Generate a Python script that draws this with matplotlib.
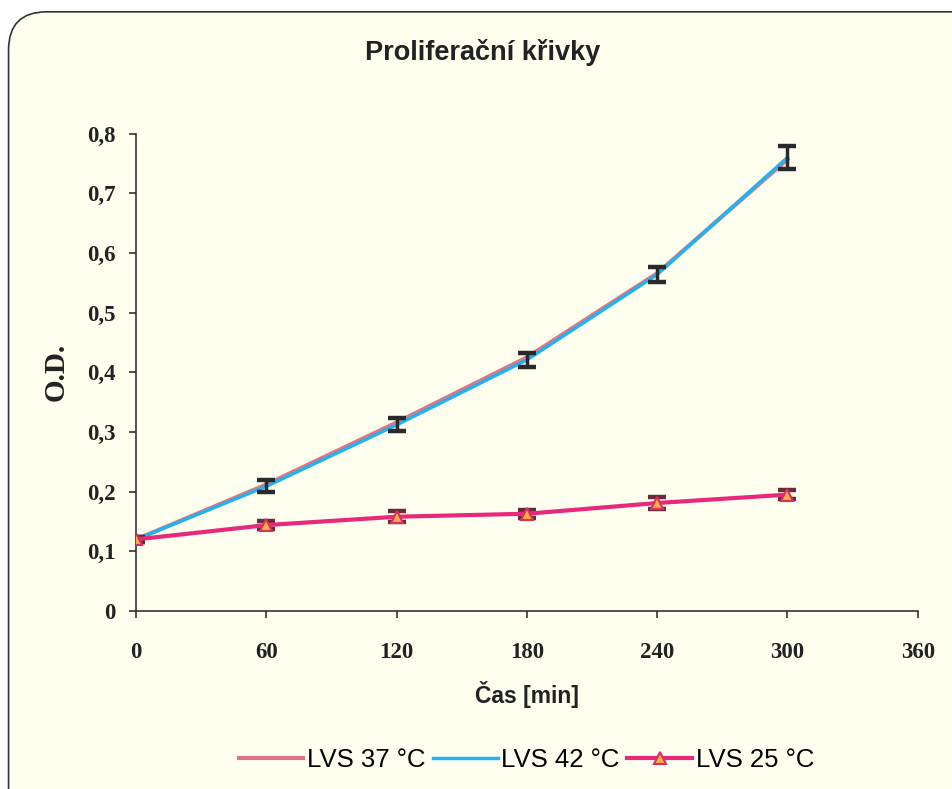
import matplotlib
matplotlib.use("Agg")
import matplotlib.pyplot as plt
from matplotlib.patches import FancyBboxPatch
from matplotlib.ticker import FuncFormatter

time_min = [0, 60, 120, 180, 240, 300]
od_37 = [0.120, 0.212, 0.316, 0.425, 0.566, 0.757]
od_42 = [0.120, 0.209, 0.312, 0.421, 0.564, 0.760]
err_42 = [0.004, 0.010, 0.011, 0.012, 0.012, 0.019]
od_25 = [0.120, 0.144, 0.158, 0.163, 0.181, 0.195]
err_25 = [0.004, 0.006, 0.009, 0.007, 0.010, 0.008]

bg = "#fffff0"
serif = ["Liberation Serif", "DejaVu Serif"]
sans = ["Liberation Sans", "DejaVu Sans"]

fig = plt.figure(figsize=(9.52, 7.89), dpi=100, facecolor="white")
frame = FancyBboxPatch((0.009, -0.05), 1.05, 1.035, boxstyle="round,pad=0,rounding_size=0.04",
                       transform=fig.transFigure, facecolor=bg, edgecolor="#333333", linewidth=1.2,
                       mutation_aspect=952 / 789, zorder=-10)
fig.patches.append(frame)

ax = fig.add_axes([0.143, 0.2256, 0.821, 0.605])
ax.set_facecolor("none")

ax.plot(time_min, od_37, color="#e07585", lw=3, zorder=3, label="LVS 37 °C")
ax.plot(time_min, od_42, color="#22b2ee", lw=2.5, zorder=3, label="LVS 42 °C")
ax.errorbar(time_min, od_42, yerr=err_42, fmt="none", ecolor="#2a2a2a", elinewidth=2.5,
            capsize=6.5, capthick=3.2, zorder=4)
ax.errorbar(time_min, od_25, yerr=err_25, fmt="none", ecolor="#6a2a3a", elinewidth=2.5,
            capsize=6.5, capthick=3.2, zorder=4)
ax.plot(time_min, od_25, color="#e8287a", lw=3, marker="^", markersize=8,
        markerfacecolor="#f7b040", markeredgecolor="#d83060", markeredgewidth=1.5,
        zorder=5, label="LVS 25 °C")

ax.set_xlim(0, 360)
ax.set_ylim(0, 0.8)
ax.set_xticks(range(0, 361, 60))
ax.set_yticks([0, 0.1, 0.2, 0.3, 0.4, 0.5, 0.6, 0.7, 0.8])
ax.yaxis.set_major_formatter(FuncFormatter(lambda v, p: "0" if v == 0 else f"{v:.1f}".replace(".", ",")))
for s in ["top", "right"]:
    ax.spines[s].set_visible(False)
for s in ["left", "bottom"]:
    ax.spines[s].set_color("#333333")
    ax.spines[s].set_linewidth(1.2)
ax.tick_params(direction="out", length=5, width=1.2, color="#333333")
ax.tick_params(axis="x", pad=17)
ax.tick_params(axis="y", pad=10)
for lab in ax.get_xticklabels() + ax.get_yticklabels():
    lab.set_fontfamily(serif)
    lab.set_fontweight("bold")
    lab.set_fontsize(16.5)
    lab.set_color("#222222")

ax.set_ylabel("O.D.", fontfamily=serif, fontweight="bold", fontsize=21, labelpad=12, color="#222222")
ax.set_xlabel("Čas [min]", fontfamily=sans, fontweight="bold", fontsize=16.5, labelpad=13, color="#222222")
fig.text(0.507, 0.934, "Proliferační křivky", ha="center", va="center", fontfamily=sans,
         fontweight="bold", fontsize=19.5, color="#222222")

fig.legend(loc="center", bbox_to_anchor=(0.553, 0.037), ncol=3, frameon=False,
           prop={"family": sans, "size": 18.5}, handlelength=2.5, handletextpad=0.15,
           columnspacing=0.3)

fig.savefig("out.png", dpi=100, facecolor="white")
